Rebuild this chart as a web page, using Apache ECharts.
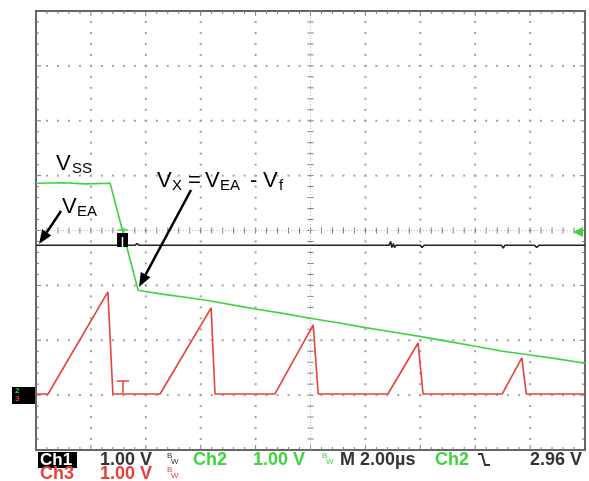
<!DOCTYPE html>
<html>
<head>
<meta charset="utf-8">
<script src="https://cdn.jsdelivr.net/npm/echarts@6/dist/echarts.min.js"></script>
<style>
html, body { margin: 0; padding: 0; background: #fff; }
#main { width: 589px; height: 481px; }
</style>
</head>
<body>
<div id="main"></div>
<script>
// scope screen is 10 x 8 divisions (2 us/div, 1 V/div)
// every point is [time in div, level in div]
const ch1Points = [
  [0, 3.73], [0.30, 3.73], [0.33, 3.76], [0.36, 3.73], [0.96, 3.73], [0.99, 3.70],
  [1.02, 3.73], [1.80, 3.73], [1.84, 3.76], [1.88, 3.73], [5.00, 3.73], [5.03, 3.76],
  [5.06, 3.73], [6.43, 3.73], [6.46, 3.80], [6.48, 3.69], [6.51, 3.76], [6.53, 3.69],
  [6.56, 3.73], [7.00, 3.73], [7.03, 3.69], [7.07, 3.73], [8.06, 3.73], [8.09, 3.76],
  [8.12, 3.73], [8.48, 3.73], [8.51, 3.68], [8.54, 3.73], [9.08, 3.73], [9.12, 3.69],
  [9.16, 3.73], [10, 3.73]
];
const ch2Points = [
  [0, 4.86], [0.5, 4.87], [0.9, 4.85], [1.35, 4.86], [1.86, 2.91], [2.3, 2.84],
  [2.75, 2.78], [3.1, 2.73], [3.6, 2.64], [4.0, 2.57], [4.5, 2.49], [4.99, 2.40],
  [5.5, 2.32], [6.0, 2.23], [6.5, 2.15], [6.99, 2.07], [7.5, 1.98], [8.0, 1.89],
  [8.5, 1.80], [8.94, 1.74], [9.5, 1.66], [10, 1.58]
];
const ch3Points = [
  [0, 1.02], [0.22, 1.02], [1.31, 2.88], [1.40, 1.02], [2.26, 1.02], [3.19, 2.59],
  [3.26, 1.02], [4.35, 1.02], [5.05, 2.28], [5.14, 1.02], [6.41, 1.02], [6.96, 1.95],
  [7.05, 1.02], [8.49, 1.02], [8.85, 1.68], [8.93, 1.02], [10, 1.02]
];

const green = '#3fd43f';
const red = '#e8403a';
const ink = '#222';
const font = 'Liberation Sans, Arial, sans-serif';

const chart = echarts.init(document.getElementById('main'));

function hiddenAxis(max) {
  return {
    type: 'value', min: 0, max: max, interval: 1,
    axisLine: { show: false }, axisLabel: { show: false },
    axisTick: { show: false }, splitLine: { show: false }
  };
}

function txt(x, y, s, size, color, opts) {
  return {
    type: 'text', x: x, y: y, z: 10,
    style: Object.assign({
      text: s, fontFamily: font, fontSize: size, fill: color,
      align: 'left', verticalAlign: 'middle'
    }, opts || {})
  };
}

function arrow(x1, y1, x2, y2) {
  const a = Math.atan2(y2 - y1, x2 - x1), L = 14, W = 5.5;
  const bx = x2 - L * Math.cos(a), by = y2 - L * Math.sin(a);
  return [
    { type: 'line', z: 10, shape: { x1: x1, y1: y1, x2: bx, y2: by }, style: { stroke: '#000', lineWidth: 2.5 } },
    { type: 'polygon', z: 10, shape: { points: [[x2, y2], [bx + W * Math.sin(a), by - W * Math.cos(a)], [bx - W * Math.sin(a), by + W * Math.cos(a)]] }, style: { fill: '#000' } }
  ];
}

const annot = [
  // V_SS
  txt(56, 164, 'V', 22, '#000'),
  txt(72, 169, 'SS', 15, '#000'),
  // V_EA
  txt(62, 207, 'V', 22, '#000'),
  txt(77, 212, 'EA', 15, '#000'),
  // V_X = V_EA - V_f
  txt(157, 181, 'V', 22, '#000'),
  txt(172, 186, 'X', 15, '#000'),
  txt(188, 181, '=', 22, '#000'),
  txt(205, 181, 'V', 22, '#000'),
  txt(220, 186, 'EA', 15, '#000'),
  txt(250, 181, '-', 22, '#000'),
  txt(263, 181, 'V', 22, '#000'),
  txt(279, 186, 'f', 15, '#000')
].concat(arrow(61, 211, 39, 244), arrow(191, 190, 139, 287));

const markers = [
  // trigger position
  { type: 'line', z: 9, shape: { x1: 118, y1: 230, x2: 128, y2: 230 }, style: { stroke: green, lineWidth: 1.5 } },
  { type: 'rect', z: 9, shape: { x: 117, y: 233, width: 11, height: 14 }, style: { fill: '#000' } },
  { type: 'line', z: 9, shape: { x1: 122.5, y1: 237, x2: 122.5, y2: 247 }, style: { stroke: '#fff', lineWidth: 1.5 } },
  // trigger level
  { type: 'polygon', z: 9, shape: { points: [[573, 232], [583, 227], [583, 237]] }, style: { fill: green } },
  // ground marker ch2/ch3
  { type: 'rect', z: 9, shape: { x: 12, y: 387, width: 23, height: 17 }, style: { fill: '#000' } },
  txt(15, 391, '2', 8, green, { fontWeight: 'bold' }),
  txt(15, 399, '3', 8, red, { fontWeight: 'bold' }),
  // red T trigger glyph
  { type: 'line', z: 9, shape: { x1: 117, y1: 381, x2: 129, y2: 381 }, style: { stroke: red, lineWidth: 1.5 } },
  { type: 'line', z: 9, shape: { x1: 123, y1: 381, x2: 123, y2: 393 }, style: { stroke: red, lineWidth: 1.5 } }
];

const b = { fontWeight: 'bold' };
const readout = [
  { type: 'rect', z: 9, shape: { x: 38, y: 452, width: 39, height: 16 }, style: { fill: '#000' } },
  txt(40, 460, 'Ch1', 17, '#fff', b),
  txt(100, 460, '1.00 V', 18, '#333', b),
  txt(167, 456, 'B', 8, '#333'),
  txt(171, 462, 'W', 8, '#333'),
  txt(193, 460, 'Ch2', 18, green, b),
  txt(253, 460, '1.00 V', 18, green, b),
  txt(322, 456, 'B', 8, green),
  txt(326, 462, 'W', 8, green),
  txt(340, 460, 'M 2.00\u00b5s', 18, '#333', b),
  txt(435, 460, 'Ch2', 18, green, b),
  { type: 'polyline', z: 9, shape: { points: [[478, 454], [482, 454], [485, 465], [490, 465]] }, style: { stroke: '#333', lineWidth: 2, fill: null } },
  txt(582, 460, '2.96 V', 18, '#333', { fontWeight: 'bold', align: 'right' }),
  txt(40, 474, 'Ch3', 18, red, b),
  txt(100, 474, '1.00 V', 18, red, b),
  txt(167, 470, 'B', 8, red),
  txt(171, 476, 'W', 8, red)
];

function trace(points, color) {
  return {
    type: 'line',
    data: points,
    showSymbol: false,
    animation: false,
    z: 5,
    lineStyle: { color: color, width: 1.6 }
  };
}

// graticule: dotted division lines, tick marks on the frame and on the centre cross
function graticule(params, api) {
  const kids = [];
  const dot = '#a0a0a0', tick = '#7a7a7a';
  function seg(x1, y1, x2, y2, c) {
    kids.push({ type: 'line', shape: { x1: x1, y1: y1, x2: x2, y2: y2 }, style: { stroke: c, lineWidth: 1 } });
  }
  for (let gx = 1; gx <= 9; gx++) {
    for (let j = 1; j < 40; j++) {
      const p = api.coord([gx, j / 5]);
      if (gx === 5) {
        seg(p[0] - 3, p[1], p[0] + 3, p[1], tick);
      } else {
        kids.push({ type: 'rect', shape: { x: p[0] - 1, y: p[1] - 1, width: 2, height: 2 }, style: { fill: dot } });
      }
    }
  }
  for (let gy = 1; gy <= 7; gy++) {
    for (let i = 1; i < 50; i++) {
      const p = api.coord([i / 5, gy]);
      if (gy === 4) {
        seg(p[0], p[1] - 3, p[0], p[1] + 3, tick);
      } else {
        kids.push({ type: 'rect', shape: { x: p[0] - 1, y: p[1] - 1, width: 2, height: 2 }, style: { fill: dot } });
      }
    }
  }
  // frame ticks every 0.2 div
  for (let i = 1; i < 50; i++) {
    const h = i % 5 === 0 ? 5 : 3;
    const t = api.coord([i / 5, 8]), bt = api.coord([i / 5, 0]);
    seg(t[0], t[1], t[0], t[1] + h, tick);
    seg(bt[0], bt[1], bt[0], bt[1] - h, tick);
  }
  for (let j = 1; j < 40; j++) {
    const h = j % 5 === 0 ? 5 : 3;
    const l = api.coord([0, j / 5]), r = api.coord([10, j / 5]);
    seg(l[0], l[1], l[0] + h, l[1], tick);
    seg(r[0], r[1], r[0] - h, r[1], tick);
  }
  const c1 = api.coord([5, 0]), c2 = api.coord([5, 8]);
  const c3 = api.coord([0, 4]), c4 = api.coord([10, 4]);
  kids.push({ type: 'line', shape: { x1: c1[0], y1: c1[1], x2: c2[0], y2: c2[1] }, style: { stroke: '#bbb', lineWidth: 1, lineDash: [1, 2] } });
  kids.push({ type: 'line', shape: { x1: c3[0], y1: c3[1], x2: c4[0], y2: c4[1] }, style: { stroke: '#bbb', lineWidth: 1, lineDash: [1, 2] } });
  return { type: 'group', children: kids };
}

chart.setOption({
  animation: false,
  grid: {
    left: 36, right: 4, top: 11, bottom: 31,
    show: true, borderColor: '#666', borderWidth: 2, backgroundColor: 'transparent'
  },
  xAxis: hiddenAxis(10),
  yAxis: hiddenAxis(8),
  series: [
    {
      type: 'custom',
      silent: true,
      z: 1,
      data: [[0, 0]],
      renderItem: graticule
    },
    trace(ch1Points, ink),
    trace(ch3Points, red),
    trace(ch2Points, green)
  ],
  graphic: annot.concat(markers, readout)
});
</script>
</body>
</html>
